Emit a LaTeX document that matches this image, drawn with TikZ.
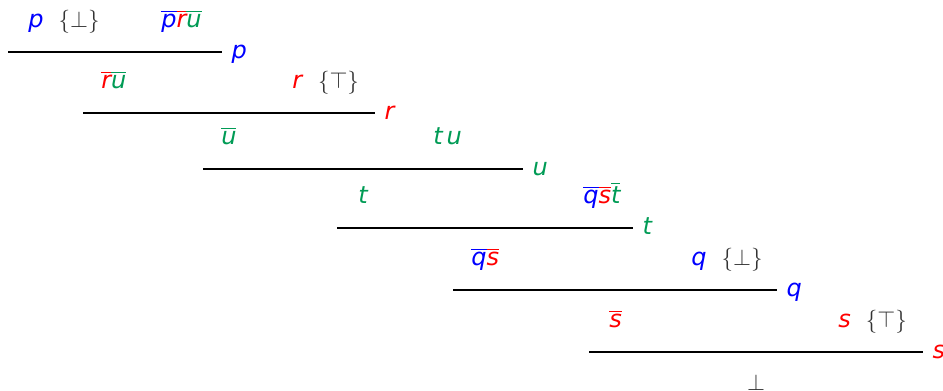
\documentclass[tikz,border=0pt]{standalone}
\usepackage{fontspec}
\usetikzlibrary{positioning}
\newfontfamily\litfont{DejaVu Sans}
\definecolor{litblue}{RGB}{0,0,255}
\definecolor{litred}{RGB}{255,0,0}
\definecolor{litgreen}{RGB}{0,155,85}
% negated literal: bar over the letter, in the letter's colour
\newcommand{\ngt}[1]{\leavevmode\vbox{\hrule height 0.8pt\kern 2.2pt\hbox{#1}}}

\begin{document}
\begin{tikzpicture}[
        x=0.75pt, y=-0.75pt,
        lit/.style={inner sep=0pt, anchor=base west, font=\fontsize{18}{22}\selectfont\litfont\itshape},
        mark_set/.style={inner sep=0pt, anchor=base west, text=black!80, font=\fontsize{18}{22}\selectfont},
        rule_line/.style={draw, line width=0.9pt}
    ]
    \useasboundingbox (0,0) rectangle (943,391);

    % Schritt 1
    \node[lit, text=litblue] (p1_a) at (28,28) {p};
    \node[mark_set, right=11pt of p1_a.base east, anchor=base west] (p1_b) {$\{\bot\}$};
    \node[lit] (p1_c) at (161,28) {\color{litblue}\ngt{p}\color{litred}\ngt{r}\color{litgreen}\ngt{u}};
    \coordinate (l1_a) at (8,52);
    \coordinate (l1_b) at (222,52);
    \draw[rule_line] (l1_a) -- (l1_b);
    \node[lit, text=litblue, right=7pt of l1_b, anchor=base west, yshift=-5pt] (c1) {p};

    % Schritt 2
    \node[lit] (p2_a) at (101,89) {\color{litred}\ngt{r}\color{litgreen}\ngt{u}};
    \node[lit, text=litred] (p2_b) at (292,89) {r};
    \node[mark_set, right=11.5pt of p2_b.base east, anchor=base west] (p2_c) {$\{\top\}$};
    \coordinate (l2_a) at (83,113);
    \coordinate (l2_b) at (375,113);
    \draw[rule_line] (l2_a) -- (l2_b);
    \node[lit, text=litred, right=7pt of l2_b, anchor=base west, yshift=-5pt] (c2) {r};

    % Schritt 3
    \node[lit, text=litgreen] (p3_a) at (221,145) {\ngt{u}};
    \node[lit, text=litgreen] (p3_b) at (433,145) {t\,u};
    \coordinate (l3_a) at (203,169);
    \coordinate (l3_b) at (523,169);
    \draw[rule_line] (l3_a) -- (l3_b);
    \node[lit, text=litgreen, right=7pt of l3_b, anchor=base west, yshift=-5pt] (c3) {u};

    % Schritt 4
    \node[lit, text=litgreen] (p4_a) at (358,204) {t};
    \node[lit] (p4_b) at (583,204) {\color{litblue}\ngt{q}\color{litred}\ngt{s}\color{litgreen}\ngt{t}};
    \coordinate (l4_a) at (337,228);
    \coordinate (l4_b) at (633,228);
    \draw[rule_line] (l4_a) -- (l4_b);
    \node[lit, text=litgreen, right=7pt of l4_b, anchor=base west, yshift=-5pt] (c4) {t};

    % Schritt 5
    \node[lit] (p5_a) at (471,266) {\color{litblue}\ngt{q}\color{litred}\ngt{s}};
    \node[lit, text=litblue] (p5_b) at (691,266) {q};
    \node[mark_set, right=11pt of p5_b.base east, anchor=base west] (p5_c) {$\{\bot\}$};
    \coordinate (l5_a) at (453,290);
    \coordinate (l5_b) at (777,290);
    \draw[rule_line] (l5_a) -- (l5_b);
    \node[lit, text=litblue, right=7pt of l5_b, anchor=base west, yshift=-5pt] (c5) {q};

    % Schritt 6
    \node[lit, text=litred] (p6_a) at (609,328) {\ngt{s}};
    \node[lit, text=litred] (p6_b) at (838,328) {s};
    \node[mark_set, right=11pt of p6_b.base east, anchor=base west] (p6_c) {$\{\top\}$};
    \coordinate (l6_a) at (589,352);
    \coordinate (l6_b) at (923,352);
    \draw[rule_line] (l6_a) -- (l6_b);
    \node[lit, text=litred, right=7pt of l6_b, anchor=base west, yshift=-5pt] (c6) {s};

    % Ergebnis
    \node[mark_set, anchor=base] (res) at (756,391) {$\bot$};
\end{tikzpicture}
\end{document}
